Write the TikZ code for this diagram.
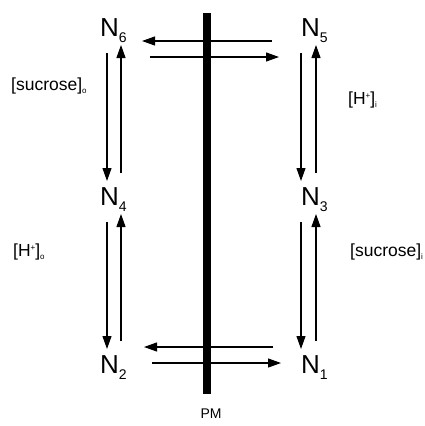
\documentclass[tikz,border=0pt]{standalone}
\usepackage{fontspec}
\setmainfont{Liberation Sans}
\usetikzlibrary{arrows.meta,calc}

\newcommand{\Nsite}[1]{N\raisebox{-6pt}{\fontsize{14}{14}\selectfont #1}}
\newcommand{\lowidx}[1]{\raisebox{-3pt}{\fontsize{8}{8}\selectfont #1}}
\newcommand{\hplus}{H\raisebox{6pt}{\fontsize{8}{8}\selectfont +}}

\tikzset{
  site/.style={anchor=base west,inner sep=0pt,font=\fontsize{26}{26}\selectfont},
  conc/.style={anchor=base west,inner sep=0pt,font=\fontsize{17.5}{17.5}\selectfont},
  flux/.style={->,line width=1.2pt}
}

\begin{document}
\begin{tikzpicture}[x=1pt,y=-1pt,>={Triangle[length=13pt,width=9pt]}]
\useasboundingbox (0,0) rectangle (425,426);
% membrane
\fill (203,13) rectangle (211,394);
\node[font=\fontsize{14}{14}\selectfont] (PM) at (211,414) {PM};

\node[site] (N6) at (100,36) {\Nsite{6}};
\node[site] (N5) at (301,36) {\Nsite{5}};
\node[site] (N4) at (100,205) {\Nsite{4}};
\node[site] (N3) at (301,205) {\Nsite{3}};
\node[site] (N2) at (100,373) {\Nsite{2}};
\node[site] (N1) at (301,373) {\Nsite{1}};

\node[conc] (suco) at (11,90) {[sucrose]\lowidx{o}};
\node[conc] (Hi) at (348,104) {[\hplus]\lowidx{i}};
\node[conc] (Ho) at (13,256) {[\hplus]\lowidx{o}};
\node[conc] (suci) at (350,256) {[sucrose]\lowidx{i}};

% across the membrane
\draw[flux] ($(N5.base west)+(-29,5)$) -- ($(N6.base west)+(42,5)$);
\draw[flux] ($(N6.base west)+(50,21)$) -- ($(N5.base west)+(-22,21)$);
\draw[flux] ($(N1.base west)+(-28,-26)$) -- ($(N2.base west)+(44,-26)$);
\draw[flux] ($(N2.base west)+(52,-10)$) -- ($(N1.base west)+(-20,-10)$);

% outside
\draw[flux] ($(N6.base west)+(7,17)$) -- ($(N4.base west)+(7,-24)$);
\draw[flux] ($(N4.base west)+(21,-32)$) -- ($(N6.base west)+(21,9)$);
\draw[flux] ($(N4.base west)+(7,17)$) -- ($(N2.base west)+(7,-24)$);
\draw[flux] ($(N2.base west)+(21,-32)$) -- ($(N4.base west)+(21,9)$);

% inside
\draw[flux] ($(N5.base west)+(0,17)$) -- ($(N3.base west)+(0,-24)$);
\draw[flux] ($(N3.base west)+(15,-32)$) -- ($(N5.base west)+(15,9)$);
\draw[flux] ($(N3.base west)+(0,17)$) -- ($(N1.base west)+(0,-24)$);
\draw[flux] ($(N1.base west)+(15,-32)$) -- ($(N3.base west)+(15,9)$);
\end{tikzpicture}
\end{document}
